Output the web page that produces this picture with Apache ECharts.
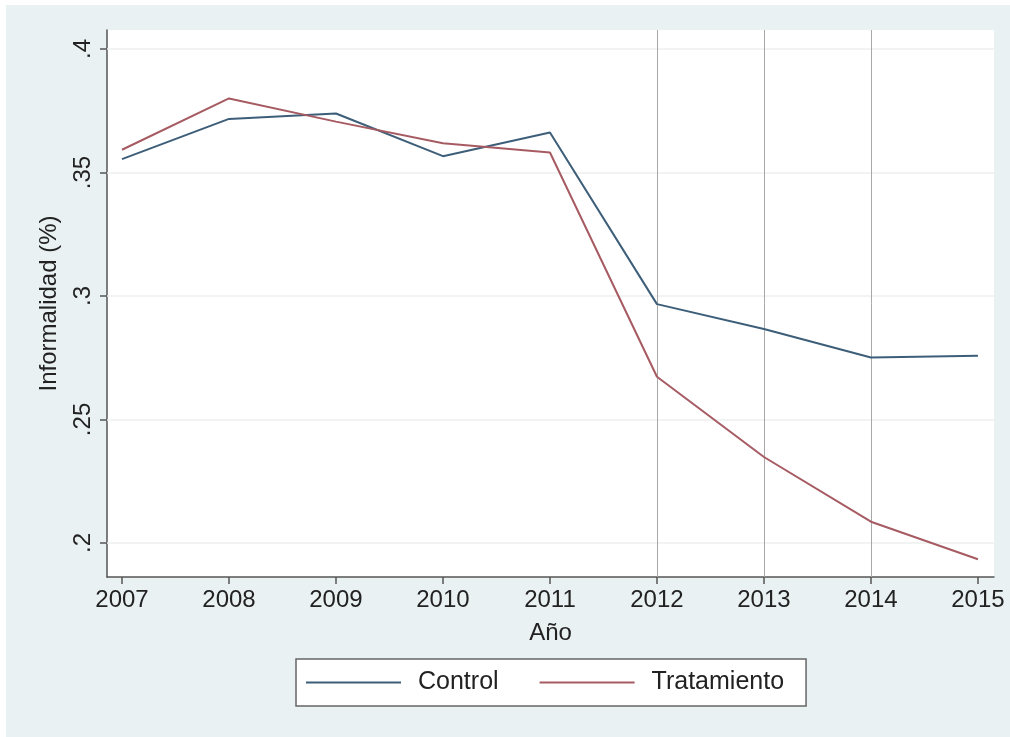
<!DOCTYPE html>
<html>
<head>
<meta charset="utf-8">
<script src="https://cdn.jsdelivr.net/npm/echarts@6/dist/echarts.min.js"></script>
<style>
html,body{margin:0;padding:0;background:#ffffff;}
#c{position:absolute;left:6px;top:5px;width:1004px;height:732px;background:#eaf1f3;}
</style>
</head>
<body>
<div id="c"></div>
<script>
const years = [2007, 2008, 2009, 2010, 2011, 2012, 2013, 2014, 2015];
const control = [0.3554, 0.3717, 0.3739, 0.3566, 0.3662, 0.2967, 0.2866, 0.2751, 0.2758];
const tratamiento = [0.3592, 0.3800, 0.3706, 0.3618, 0.3581, 0.2673, 0.2348, 0.2086, 0.1934];
const yTicks = [0.2, 0.25, 0.3, 0.35, 0.4];
const yTickLabels = ['.2', '.25', '.3', '.35', '.4'];
const vLines = [2012, 2013, 2014];
const seriesNames = ['Control', 'Tratamiento'];

const font = 'Liberation Sans, Arial, sans-serif';
const chart = echarts.init(document.getElementById('c'));
const pair = (xs, ys) => xs.map((x, i) => [x, ys[i]]);

chart.setOption({
  animation: false,
  backgroundColor: '#eaf1f3',
  textStyle: { fontFamily: font },
  grid: {
    left: 101, top: 25, right: 16, bottom: 160,
    show: true, backgroundColor: '#ffffff', borderWidth: 0
  },
  xAxis: {
    type: 'value', min: 2006.86, max: 2015.15,
    name: 'Año', nameLocation: 'middle', nameGap: 44,
    nameTextStyle: { fontSize: 24, color: '#222', fontFamily: font },
    axisLine: { onZero: false, lineStyle: { color: '#555', width: 1.5 } },
    axisTick: { show: true, length: 7, customValues: years, lineStyle: { color: '#555', width: 1.5 } },
    axisLabel: { customValues: years, fontSize: 24, color: '#222', margin: 11, formatter: v => String(v) },
    splitLine: { show: false }
  },
  yAxis: {
    type: 'value', min: 0.1862, max: 0.4077,
    name: 'Informalidad (%)', nameLocation: 'middle', nameGap: 46, nameRotate: 90,
    nameTextStyle: { fontSize: 24, color: '#222', fontFamily: font },
    axisLine: { show: true, lineStyle: { color: '#555', width: 1.5 } },
    axisTick: { show: true, length: 7, customValues: yTicks, lineStyle: { color: '#555', width: 1.5 } },
    axisLabel: {
      customValues: yTicks, fontSize: 24, color: '#222', margin: 12, rotate: 90,
      formatter: v => { const i = yTicks.findIndex(t => Math.abs(t - v) < 1e-6); return i >= 0 ? yTickLabels[i] : ''; }
    },
    splitLine: { show: false }
  },
  legend: {
    left: 290, top: 654,
    orient: 'horizontal',
    backgroundColor: '#ffffff', borderColor: '#666', borderWidth: 1.5,
    padding: [11, 22, 11, 10],
    itemWidth: 95, itemHeight: 2, itemGap: 41, icon: 'rect',
    textStyle: { fontSize: 25, color: '#222', fontFamily: font, padding: [0, 0, 0, 12] },
    data: seriesNames
  },
  series: [
    {
      name: 'grid', type: 'line', data: [], z: 1, silent: true,
      markLine: {
        z: 1, silent: true, symbol: 'none', label: { show: false },
        lineStyle: { color: '#eef1f1', width: 1.5, type: 'solid' },
        data: yTicks.map(t => ({ yAxis: t }))
      }
    },
    {
      name: 'vlines', type: 'line', data: [], z: 2, silent: true,
      markLine: {
        z: 2, silent: true, symbol: 'none', label: { show: false },
        lineStyle: { color: '#a8a8a8', width: 1, type: 'solid' },
        data: vLines.map(v => ({ xAxis: v }))
      }
    },
    {
      name: seriesNames[0], type: 'line', data: pair(years, control),
      symbol: 'none', lineStyle: { color: '#3d5e79', width: 2 }, itemStyle: { color: '#3d5e79' },
      z: 3
    },
    {
      name: seriesNames[1], type: 'line', data: pair(years, tratamiento),
      symbol: 'none', lineStyle: { color: '#a65a61', width: 2 }, itemStyle: { color: '#a65a61' },
      z: 3
    }
  ]
});
</script>
</body>
</html>
